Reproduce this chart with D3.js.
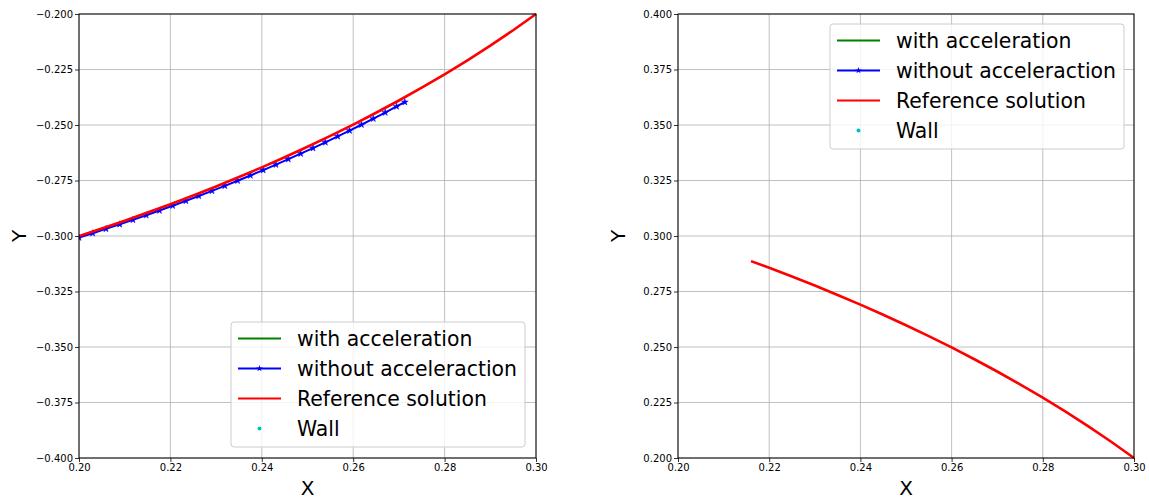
<!DOCTYPE html>
<html>
<head>
<meta charset="utf-8">
<script src="https://cdn.jsdelivr.net/npm/d3@7"></script>
<style>
  html, body { margin: 0; padding: 0; background: #fff; }
  svg { display: block; font-family: "DejaVu Sans", sans-serif; }
</style>
</head>
<body>
<svg id="chart" width="1149" height="503"></svg>
<script>
// Trajectory samples (x, y) for each panel
const leftRefX = [0.200, 0.205, 0.210, 0.215, 0.220, 0.225, 0.230, 0.235, 0.240, 0.245, 0.250,
                  0.255, 0.260, 0.265, 0.270, 0.275, 0.280, 0.285, 0.290, 0.295, 0.300];
const leftRefY = [-0.30000, -0.29661, -0.29309, -0.28944, -0.28566, -0.28174, -0.27767, -0.27345,
                  -0.26907, -0.26453, -0.25981, -0.25490, -0.24980, -0.24449, -0.23896, -0.23318,
                  -0.22716, -0.22085, -0.21424, -0.20730, -0.20000];

const leftNoAccX = [0.2000, 0.2030, 0.2059, 0.2089, 0.2118, 0.2147, 0.2176, 0.2205, 0.2234,
                    0.2262, 0.2291, 0.2319, 0.2347, 0.2375, 0.2403, 0.2431, 0.2458, 0.2485,
                    0.2512, 0.2539, 0.2566, 0.2592, 0.2618, 0.2644, 0.2670, 0.2695, 0.2713];
const leftNoAccY = [-0.30070, -0.29874, -0.29680, -0.29474, -0.29272, -0.29065, -0.28854, -0.28637,
                    -0.28417, -0.28199, -0.27969, -0.27741, -0.27510, -0.27273, -0.27031, -0.26785,
                    -0.26540, -0.26292, -0.26039, -0.25780, -0.25514, -0.25254, -0.24988, -0.24717,
                    -0.24438, -0.24166, -0.23968];

const rightRefX = [0.216, 0.220, 0.225, 0.230, 0.235, 0.240, 0.245, 0.250, 0.255, 0.260,
                   0.265, 0.270, 0.275, 0.280, 0.285, 0.290, 0.295, 0.300];
const rightRefY = [0.28869, 0.28566, 0.28174, 0.27767, 0.27345, 0.26907, 0.26453, 0.25981, 0.25490,
                   0.24980, 0.24449, 0.23896, 0.23318, 0.22716, 0.22085, 0.21424, 0.20730, 0.20000];

// Axis ticks
const xTicks = [0.20, 0.22, 0.24, 0.26, 0.28, 0.30];
const leftYTicks = [-0.400, -0.375, -0.350, -0.325, -0.300, -0.275, -0.250, -0.225, -0.200];
const rightYTicks = [0.200, 0.225, 0.250, 0.275, 0.300, 0.325, 0.350, 0.375, 0.400];

const legendLabels = ["with acceleration", "without acceleraction", "Reference solution", "Wall"];
const legendColors = ["green", "blue", "red", "#00bfbf"];

const zip = (xs, ys) => xs.map((x, i) => [x, ys[i]]);

const panels = [
  { x0: 79, x1: 536, yDomain: [-0.4, -0.2], yTicks: leftYTicks,
    acc: [], noAcc: zip(leftNoAccX, leftNoAccY), ref: zip(leftRefX, leftRefY), wall: [],
    legend: { x: 231, y: 322, w: 294, h: 125 } },
  { x0: 678, x1: 1134, yDomain: [0.2, 0.4], yTicks: rightYTicks,
    acc: [], noAcc: [], ref: zip(rightRefX, rightRefY), wall: [],
    legend: { x: 830, y: 24, w: 294, h: 125 } }
];

const svg = d3.select("#chart");
const plotTop = 14, plotBottom = 458;
const fmtY = d => d3.format(".3f")(d).replace("-", "\u2212");
const fmtX = d3.format(".2f");

panels.forEach(p => {
  const x = d3.scaleLinear().domain([0.2, 0.3]).range([p.x0, p.x1]);
  const y = d3.scaleLinear().domain(p.yDomain).range([plotBottom, plotTop]);
  const g = svg.append("g");

  // grid
  g.append("g").selectAll("line").data(xTicks).join("line")
    .attr("x1", d => x(d)).attr("x2", d => x(d)).attr("y1", plotTop).attr("y2", plotBottom)
    .attr("stroke", "#b0b0b0").attr("stroke-width", 0.8);
  g.append("g").selectAll("line").data(p.yTicks).join("line")
    .attr("y1", d => y(d)).attr("y2", d => y(d)).attr("x1", p.x0).attr("x2", p.x1)
    .attr("stroke", "#b0b0b0").attr("stroke-width", 0.8);

  const line = d3.line().x(d => x(d[0])).y(d => y(d[1]));
  const clipId = "clip" + p.x0;
  svg.append("clipPath").attr("id", clipId).append("rect")
    .attr("x", p.x0).attr("y", plotTop - 2).attr("width", p.x1 - p.x0 + 2).attr("height", plotBottom - plotTop + 4);
  const plot = g.append("g").attr("clip-path", `url(#${clipId})`);

  if (p.acc.length) plot.append("path").datum(p.acc).attr("d", line)
    .attr("fill", "none").attr("stroke", "green").attr("stroke-width", 2);
  if (p.noAcc.length) {
    plot.append("path").datum(p.noAcc).attr("d", line)
      .attr("fill", "none").attr("stroke", "blue").attr("stroke-width", 2);
    plot.append("g").selectAll("path").data(p.noAcc).join("path")
      .attr("d", d3.symbol(d3.symbolStar, 14))
      .attr("transform", d => `translate(${x(d[0])},${y(d[1])})`)
      .attr("fill", "blue").attr("stroke", "blue").attr("stroke-width", 0.5);
  }
  if (p.ref.length) plot.append("path").datum(p.ref).attr("d", line)
    .attr("fill", "none").attr("stroke", "red").attr("stroke-width", 2.6)
    .attr("stroke-linejoin", "round");
  plot.append("g").selectAll("circle").data(p.wall).join("circle")
    .attr("cx", d => x(d[0])).attr("cy", d => y(d[1])).attr("r", 2).attr("fill", "#00bfbf");

  // axes
  const xAxis = d3.axisBottom(x).tickValues(xTicks).tickFormat(fmtX).tickSize(4).tickPadding(2);
  const yAxis = d3.axisLeft(y).tickValues(p.yTicks).tickFormat(fmtY).tickSize(4).tickPadding(2);
  const gx = g.append("g").attr("transform", `translate(0,${plotBottom})`).call(xAxis);
  const gy = g.append("g").attr("transform", `translate(${p.x0},0)`).call(yAxis);
  [gx, gy].forEach(a => {
    a.select(".domain").remove();
    a.selectAll("text").attr("font-size", 10).attr("fill", "#000")
      .attr("font-family", "DejaVu Sans, sans-serif");
    a.selectAll(".tick line").attr("stroke", "#000").attr("stroke-width", 0.8);
  });

  // frame
  g.append("rect").attr("x", p.x0).attr("y", plotTop).attr("width", p.x1 - p.x0).attr("height", plotBottom - plotTop)
    .attr("fill", "none").attr("stroke", "#000").attr("stroke-width", 1);

  // axis labels
  g.append("text").attr("x", (p.x0 + p.x1) / 2).attr("y", 495).attr("text-anchor", "middle")
    .attr("font-size", 20).text("X");
  g.append("text").attr("transform", `translate(${p.x0 - 53},${(plotTop + plotBottom) / 2}) rotate(-90)`)
    .attr("text-anchor", "middle").attr("font-size", 20).text("Y");

  // legend
  const L = p.legend;
  const lg = g.append("g").attr("transform", `translate(${L.x},${L.y})`);
  lg.append("rect").attr("width", L.w).attr("height", L.h).attr("rx", 3)
    .attr("fill", "#fff").attr("fill-opacity", 0.8).attr("stroke", "#cccccc").attr("stroke-width", 1);
  legendLabels.forEach((lab, i) => {
    const cy = 16.5 + i * 30;
    if (i < 3) {
      lg.append("line").attr("x1", 7).attr("x2", 50).attr("y1", cy).attr("y2", cy)
        .attr("stroke", legendColors[i]).attr("stroke-width", 2);
    }
    if (i === 1) {
      lg.append("path").attr("d", d3.symbol(d3.symbolStar, 14))
        .attr("transform", `translate(28.5,${cy})`).attr("fill", "blue");
    }
    if (i === 3) {
      lg.append("circle").attr("cx", 28.5).attr("cy", cy).attr("r", 2).attr("fill", legendColors[i]);
    }
    lg.append("text").attr("x", 66).attr("y", cy + 7).attr("font-size", 20.4).attr("fill", "#000").text(lab);
  });
});
</script>
</body>
</html>
